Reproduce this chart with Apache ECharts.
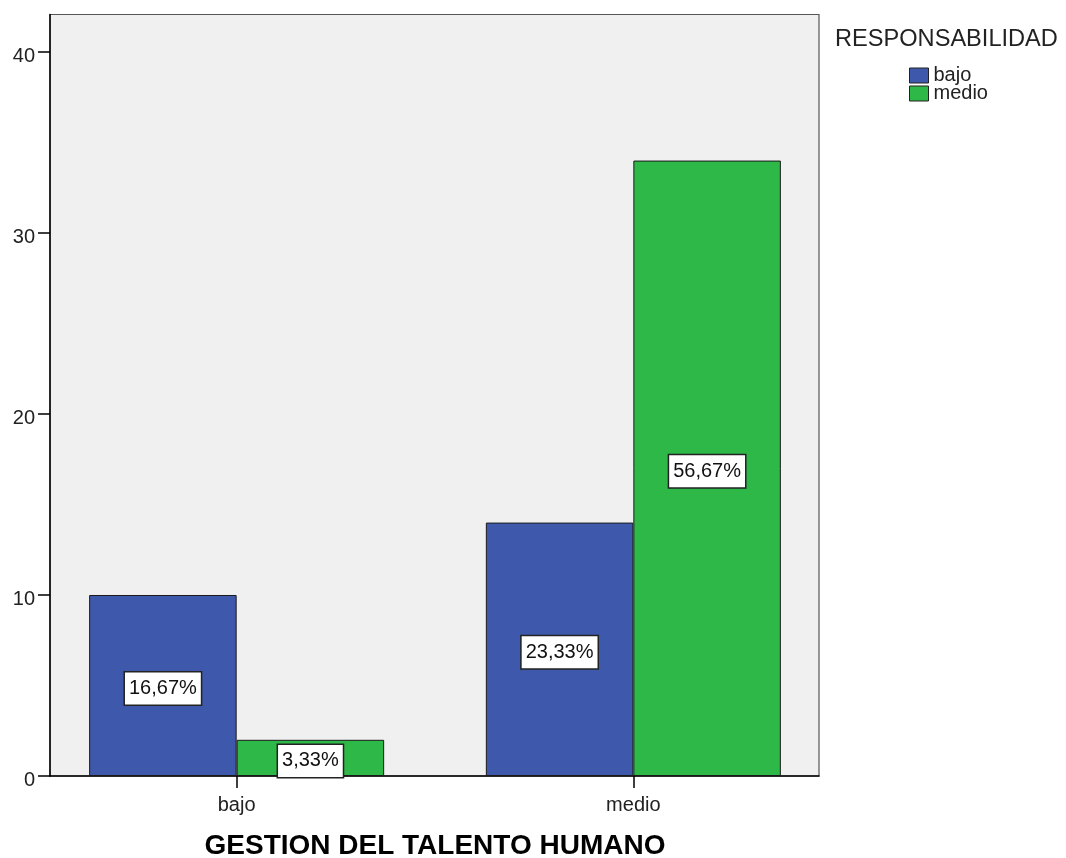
<!DOCTYPE html>
<html>
<head>
<meta charset="utf-8">
<script src="https://cdn.jsdelivr.net/npm/echarts@6/dist/echarts.min.js"></script>
<style>
html,body{margin:0;padding:0;background:#fff;}
#chart{width:1066px;height:858px;}
</style>
</head>
<body>
<div id="chart"></div>
<script>
const categories = ['bajo', 'medio'];
const seriesNames = ['bajo', 'medio'];
const bajoValues = [10, 14];
const medioValues = [2, 34];
const bajoLabels = ['16,67%', '23,33%'];
const medioLabels = ['3,33%', '56,67%'];
const yTicks = [0, 10, 20, 30, 40];
const legendTitle = 'RESPONSABILIDAD';
const xTitle = 'GESTION DEL TALENTO HUMANO';

const FONT = '"Liberation Sans", Arial, sans-serif';
const Y_MAX = 42.07;
const colors = ['#3E58AC', '#2EB848'];

const chart = echarts.init(document.getElementById('chart'), null, {renderer: 'canvas'});

const labelStyle = (arr) => ({
  show: true,
  position: 'inside',
  offset: [0, 3],
  formatter: (p) => arr[p.dataIndex],
  color: '#111',
  fontFamily: FONT,
  fontSize: 20,
  lineHeight: 24,
  backgroundColor: '#fff',
  borderColor: '#222',
  borderWidth: 1.5,
  padding: [5, 4, 3, 4]
});

chart.setOption({
  animation: false,
  backgroundColor: '#fff',
  textStyle: {fontFamily: FONT},
  grid: [
    {left: 50, width: 769, top: 14.5, bottom: 82, show: true, backgroundColor: '#F0F0F0', borderColor: '#555', borderWidth: 1.2, z: 0},
    {left: 38.3, width: 793.4, top: 14.5, bottom: 82, show: false}
  ],
  xAxis: [
    {gridIndex: 0, type: 'value', min: 0, max: 1,
     axisLine: {show: true, lineStyle: {color: '#000', width: 1.5}},
     axisTick: {show: false}, axisLabel: {show: false}, splitLine: {show: false}},
    {gridIndex: 1, type: 'category', data: categories,
     axisLine: {show: false},
     axisTick: {show: true, alignWithLabel: true, length: 12, lineStyle: {color: '#000', width: 1.5}},
     axisLabel: {fontSize: 20, color: '#222', margin: 19, fontFamily: FONT},
     splitLine: {show: false}}
  ],
  yAxis: [
    {gridIndex: 0, type: 'value', min: 0, max: Y_MAX,
     axisLine: {show: true, lineStyle: {color: '#000', width: 1.5}},
     axisTick: {show: true, length: 12, customValues: yTicks, lineStyle: {color: '#000', width: 1.5}},
     axisLabel: {show: true, customValues: yTicks, fontSize: 20, color: '#222', margin: 15, fontFamily: FONT, verticalAlign: 'top', lineHeight: 9},
     splitLine: {show: false}},
    {gridIndex: 1, type: 'value', min: 0, max: Y_MAX, show: false, splitLine: {show: false}}
  ],
  legend: {
    orient: 'vertical',
    left: 909,
    top: 65.5,
    padding: 0,
    itemWidth: 19,
    itemHeight: 15,
    itemGap: -2,
    itemTextGap: 4,
    icon: 'rect',
    data: seriesNames,
    textStyle: {fontSize: 20, color: '#222', fontFamily: FONT, verticalAlign: 'top', lineHeight: 11},
    itemStyle: {borderColor: '#222', borderWidth: 1}
  },
  graphic: [
    {type: 'text', left: 835, top: 27, style: {text: legendTitle, fill: '#222', font: '23.6px ' + FONT}},
    {type: 'text', x: 435, y: 846, style: {text: xTitle, fill: '#000', font: 'bold 28px ' + FONT, textAlign: 'center', textVerticalAlign: 'middle'}}
  ],
  series: [
    {name: seriesNames[0], type: 'bar', xAxisIndex: 1, yAxisIndex: 1, data: bajoValues,
     barWidth: 147.5, barGap: '0%',
     itemStyle: {color: colors[0], borderColor: '#1a1a1a', borderWidth: 1},
     label: labelStyle(bajoLabels)},
    {name: seriesNames[1], type: 'bar', xAxisIndex: 1, yAxisIndex: 1, data: medioValues,
     barWidth: 147.5, barGap: '0%',
     itemStyle: {color: colors[1], borderColor: '#1a1a1a', borderWidth: 1},
     label: labelStyle(medioLabels)}
  ]
});
</script>
</body>
</html>
